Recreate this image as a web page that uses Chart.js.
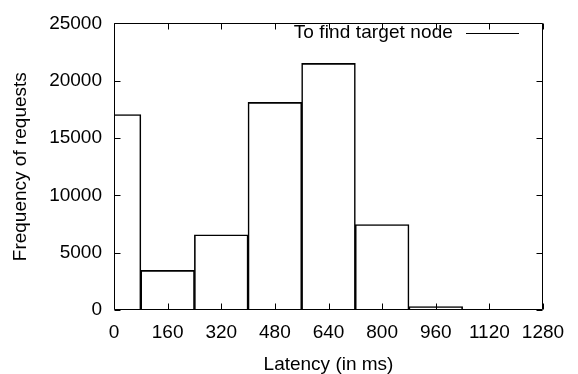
<!DOCTYPE html>
<html><head><meta charset="utf-8">
<script src="https://cdn.jsdelivr.net/npm/chart.js@4/dist/chart.umd.min.js"></script>
<style>html,body{margin:0;padding:0;background:#fff}#wrap{width:578px;height:374px}</style>
</head><body><div id="wrap"><canvas id="c" width="578" height="374"></canvas></div>
<script>
const binCenters = [0, 160, 320, 480, 640, 800, 960, 1120];
const frequencies = [17050, 3450, 6550, 18100, 21500, 7450, 300, 60];
const xTickValues = [0, 160, 320, 480, 640, 800, 960, 1120, 1280];
const yTickValues = [0, 5000, 10000, 15000, 20000, 25000];
const seriesLabel = 'To find target node';
const xTitle = 'Latency (in ms)';
const yTitle = 'Frequency of requests';

const FONT = 'Liberation Sans, Arial, Helvetica, sans-serif';
const FS = 19;

const framePlugin = {
  id: 'frame',
  afterDraw(chart) {
    const {ctx, chartArea: a, scales: {x, y}} = chart;
    ctx.save();
    ctx.strokeStyle = '#000';
    ctx.lineWidth = 1;
    const L = Math.round(a.left) + 0.5, R = Math.round(a.right) - 0.5;
    const T = Math.round(a.top) + 0.5, B = Math.round(a.bottom) - 0.5;
    ctx.beginPath();
    ctx.rect(L, T, R - L, B - T);
    const tl = 6;
    x.ticks.forEach(t => {
      const px = Math.round(x.getPixelForValue(t.value)) + 0.5;
      ctx.moveTo(px, B); ctx.lineTo(px, B - tl);
      ctx.moveTo(px, T); ctx.lineTo(px, T + tl);
    });
    y.ticks.forEach(t => {
      const py = Math.round(y.getPixelForValue(t.value)) + 0.5;
      ctx.moveTo(L, py); ctx.lineTo(L + tl, py);
      ctx.moveTo(R, py); ctx.lineTo(R - tl, py);
    });
    ctx.stroke();
    // key
    ctx.font = FS + 'px ' + FONT;
    if ('letterSpacing' in ctx) ctx.letterSpacing = '0.1px';
    ctx.fillStyle = '#000';
    ctx.textAlign = 'right';
    ctx.textBaseline = 'middle';
    const ky = 33;
    ctx.fillText(chart.data.datasets[0].label, 453, ky);
    ctx.beginPath();
    ctx.moveTo(466, ky + 0.5); ctx.lineTo(519, ky + 0.5);
    ctx.stroke();
    ctx.restore();
  }
};

new Chart(document.getElementById('c'), {
  type: 'bar',
  data: {
    datasets: [{
      label: seriesLabel,
      data: binCenters.map((c, i) => ({x: c, y: frequencies[i]})),
      backgroundColor: 'rgba(255,255,255,0)',
      borderColor: '#000',
      borderWidth: 0.8,
      inflateAmount: 0.4,
      barPercentage: 1,
      categoryPercentage: 1,
      clip: 0
    }]
  },
  options: {
    responsive: false,
    animation: false,
    devicePixelRatio: 1,
    layout: {padding: {left: 0, right: 35, top: 16, bottom: 0}},
    plugins: {legend: {display: false}, tooltip: {enabled: false}},
    scales: {
      x: {
        type: 'linear', min: 0, max: 1280, offset: false,
        afterBuildTicks: s => { s.ticks = xTickValues.map(v => ({value: v})); },
        afterFit: s => { s.height = 64; },
        ticks: {padding: 11, color: '#000', font: {family: FONT, size: FS}, maxRotation: 0, autoSkip: false, callback: v => String(v)},
        grid: {display: false, drawTicks: false, offset: false},
        border: {display: false},
        title: {display: true, text: xTitle, color: '#000', padding: 0, font: {family: FONT, size: FS, lineHeight: 1}}
      },
      y: {
        min: 0, max: 25000,
        afterBuildTicks: s => { s.ticks = yTickValues.map(v => ({value: v})); },
        afterFit: s => { s.width = 114; },
        ticks: {padding: 12, color: '#000', font: {family: FONT, size: FS}, callback: v => String(v)},
        grid: {display: false, drawTicks: false},
        border: {display: false},
        title: {display: true, text: yTitle, color: '#000', padding: {top: 11, bottom: 0}, font: {family: FONT, size: FS, lineHeight: 1}}
      }
    }
  },
  plugins: [framePlugin]
});
</script>
</body></html>
